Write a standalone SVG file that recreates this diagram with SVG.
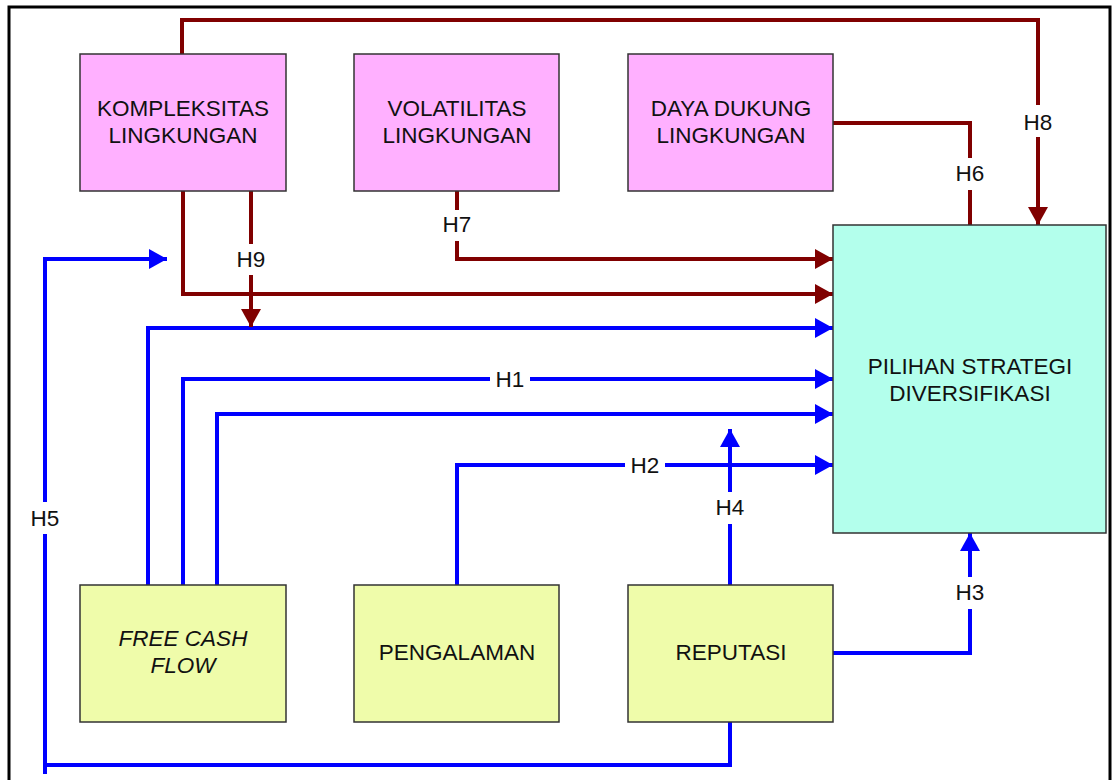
<svg xmlns="http://www.w3.org/2000/svg" width="1113" height="780" viewBox="0 0 1113 780">
<style>
.box{stroke:#333;stroke-width:1.5}
.pink{fill:#FFB0FF}
.yellow{fill:#EFFCAA}
.cyan{fill:#B3FFEC}
.t{font-family:"Liberation Sans",Arial,sans-serif;font-size:22.5px;fill:#111;text-anchor:middle}
.red{fill:none;stroke:#800000;stroke-width:4;stroke-linejoin:miter}
.blue{fill:none;stroke:#0000FF;stroke-width:4;stroke-linejoin:miter}
.lbl{fill:#fff}
</style>
<defs>
<marker id="ar" markerUnits="userSpaceOnUse" markerWidth="18" markerHeight="20" refX="18" refY="10" orient="auto" viewBox="0 0 18 20">
<path d="M0,0 L18,10 L0,20 z" fill="#800000"/>
</marker>
<marker id="ab" markerUnits="userSpaceOnUse" markerWidth="18" markerHeight="20" refX="18" refY="10" orient="auto" viewBox="0 0 18 20">
<path d="M0,0 L18,10 L0,20 z" fill="#0000FF"/>
</marker>
</defs>
<rect x="0" y="0" width="1113" height="780" fill="#fff"/>
<rect x="9" y="7" width="1101" height="790" fill="none" stroke="#000" stroke-width="3"/>

<g id="connectors">
<path class="red" d="M182,54 V20 H1038 V225" marker-end="url(#ar)"/>
<path class="red" d="M833,123 H970 V225"/>
<path class="red" d="M457,191 V259 H833" marker-end="url(#ar)"/>
<path class="red" d="M183,191 V294 H833" marker-end="url(#ar)"/>
<path class="blue" d="M148,585 V328 H833" marker-end="url(#ab)"/>
<path class="blue" d="M183,585 V379 H833" marker-end="url(#ab)"/>
<path class="blue" d="M217,585 V414 H833" marker-end="url(#ab)"/>
<path class="blue" d="M457,585 V465 H833" marker-end="url(#ab)"/>
<path class="blue" d="M730,585 V429" marker-end="url(#ab)"/>
<path class="blue" d="M833,653 H970 V533" marker-end="url(#ab)"/>
<path class="blue" d="M730,722 V765 H45"/>
<path class="blue" d="M45,774 V259 H167" marker-end="url(#ab)"/>
<path class="red" d="M251,191 V327" marker-end="url(#ar)"/>

<rect class="lbl" x="1021" y="105" width="34" height="32"/>
<text class="t" x="1038" y="130">H8</text>
<rect class="lbl" x="953" y="158" width="34" height="32"/>
<text class="t" x="970" y="181">H6</text>
<rect class="lbl" x="440" y="210" width="34" height="31"/>
<text class="t" x="457" y="232">H7</text>
<rect class="lbl" x="234" y="244" width="34" height="31"/>
<text class="t" x="251" y="267">H9</text>
<rect class="lbl" x="490" y="368" width="40" height="22"/>
<text class="t" x="510" y="387">H1</text>
<rect class="lbl" x="625" y="454" width="40" height="22"/>
<text class="t" x="645" y="473">H2</text>
<rect class="lbl" x="713" y="492" width="34" height="32"/>
<text class="t" x="730" y="515">H4</text>
<rect class="lbl" x="953" y="577" width="34" height="32"/>
<text class="t" x="970" y="600">H3</text>
<rect class="lbl" x="28" y="502" width="34" height="32"/>
<text class="t" x="45" y="526">H5</text>
</g>

<g id="kompleksitas">
<rect class="box pink" x="80" y="54" width="206" height="137"/>
<text class="t" x="183" y="116">KOMPLEKSITAS</text>
<text class="t" x="183" y="143">LINGKUNGAN</text>
</g>
<g id="volatilitas">
<rect class="box pink" x="354" y="54" width="205" height="137"/>
<text class="t" x="457" y="116">VOLATILITAS</text>
<text class="t" x="457" y="143">LINGKUNGAN</text>
</g>
<g id="daya-dukung">
<rect class="box pink" x="628" y="54" width="205" height="137"/>
<text class="t" x="731" y="116">DAYA DUKUNG</text>
<text class="t" x="731" y="143">LINGKUNGAN</text>
</g>
<g id="pilihan">
<rect class="box cyan" x="833" y="225" width="273" height="308"/>
<text class="t" x="970" y="374">PILIHAN STRATEGI</text>
<text class="t" x="970" y="401">DIVERSIFIKASI</text>
</g>
<g id="free-cash-flow">
<rect class="box yellow" x="80" y="585" width="206" height="137"/>
<text class="t" x="183" y="646" font-style="italic">FREE CASH</text>
<text class="t" x="183" y="673" font-style="italic">FLOW</text>
</g>
<g id="pengalaman">
<rect class="box yellow" x="354" y="585" width="205" height="137"/>
<text class="t" x="457" y="660">PENGALAMAN</text>
</g>
<g id="reputasi">
<rect class="box yellow" x="628" y="585" width="205" height="137"/>
<text class="t" x="731" y="660">REPUTASI</text>
</g>
</svg>
